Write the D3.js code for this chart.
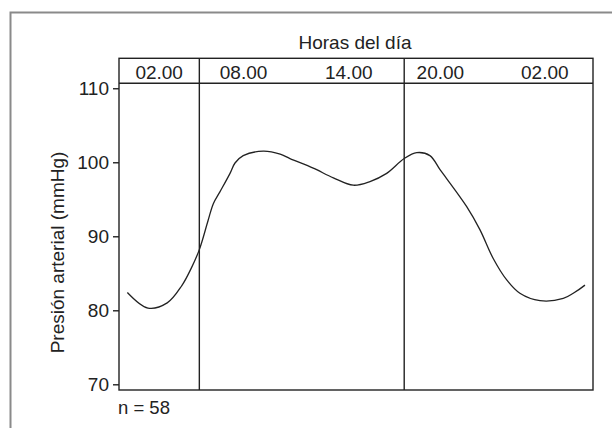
<!DOCTYPE html>
<html>
<head>
<meta charset="utf-8">
<script src="https://cdn.jsdelivr.net/npm/d3@7"></script>
<style>
  body { margin: 0; background: #fff; }
  svg { display: block; }
  text { font-family: "Liberation Sans", Arial, sans-serif; fill: #222; }
</style>
</head>
<body>
<svg id="chart" width="612" height="428"></svg>
<script>
// hours of the day (x) and mean blood pressure (mmHg)
var hours = [0.02, 1.3, 2.5, 3.4, 4.0, 4.5, 5.04, 5.37, 5.78, 6.41, 6.72, 7.23, 8.48, 9.53, 10.14,
             11.59, 12.84, 14.08, 15.12, 16.16, 17.25, 18.03, 18.85, 19.48, 19.89, 21.14,
             21.96, 22.79, 23.63, 24.45, 25.7, 27.15, 27.77, 28.5];
var pressure = [82.4, 80.3, 81.0, 83.3, 85.7, 88.2, 92.1, 94.4, 96.0, 98.5, 99.9, 100.9, 101.5, 101.1, 100.5,
                99.2, 97.9, 96.9, 97.4, 98.5, 100.5, 101.3, 100.9, 99.0, 97.8, 94.0,
                90.9, 87.0, 84.1, 82.3, 81.3, 81.6, 82.3, 83.4];

var yTicks = [70, 80, 90, 100, 110];
var headerLabels = ["02.00", "08.00", "14.00", "20.00", "02.00"];
var headerAt = [2, 7.25, 13.8, 19.5, 26];   // where each label sits on the hour scale
var dividers = [4.5, 17.25];                 // vertical lines (hours)

var svg = d3.select("#chart");
var pLeft = 119, pRight = 593, pTop = 83.3, pBottom = 390, headTop = 58.3;

var x = d3.scaleLinear().domain([-0.5, 29]).range([pLeft, pRight]);
var y = d3.scaleLinear().domain([69.23, 110.67]).range([pBottom, pTop]);

// outer frame (only top and left visible)
svg.append("path")
    .attr("d", "M10.5,428 L10.5,12.5 L612,12.5")
    .attr("fill", "none")
    .attr("stroke", "#8a8a8a")
    .attr("stroke-width", 2);

var g = svg.append("g");

// plot box incl. header row
g.append("rect")
    .attr("x", pLeft).attr("y", headTop)
    .attr("width", pRight - pLeft).attr("height", pBottom - headTop)
    .attr("fill", "none").attr("stroke", "#222").attr("stroke-width", 1.4);
g.append("line")
    .attr("x1", pLeft).attr("x2", pRight).attr("y1", pTop).attr("y2", pTop)
    .attr("stroke", "#222").attr("stroke-width", 1.4);

g.selectAll(".divider")
    .data(dividers)
    .enter()
    .append("line")
        .attr("class", "divider")
        .attr("x1", function(d){ return x(d); })
        .attr("x2", function(d){ return x(d); })
        .attr("y1", headTop).attr("y2", pBottom)
        .attr("stroke", "#222").attr("stroke-width", 1.4);

// header labels
g.selectAll(".hlab")
    .data(headerLabels)
    .enter()
    .append("text")
        .attr("class", "hlab")
        .attr("x", function(d, i){ return x(headerAt[i]); })
        .attr("y", 79)
        .attr("text-anchor", "middle")
        .attr("font-size", "19px")
        .text(function(d){ return d; });

svg.append("text")
    .attr("x", 355)
    .attr("y", 48.5)
    .attr("text-anchor", "middle")
    .attr("font-size", "19px")
    .text("Horas del día");

// y axis
var yAxis = g.append("g")
    .attr("transform", "translate(" + pLeft + ",0)")
    .call(d3.axisLeft(y).tickValues(yTicks).tickSize(6).tickPadding(4));
yAxis.select(".domain").remove();
yAxis.selectAll(".tick line").attr("stroke", "#222").attr("stroke-width", 1.4);
yAxis.selectAll(".tick text")
    .attr("fill", "#222")
    .attr("font-family", "Liberation Sans, Arial, sans-serif")
    .attr("font-size", "19px");

svg.append("text")
    .attr("transform", "translate(63.5,252.5) rotate(-90)")
    .attr("text-anchor", "middle")
    .attr("font-size", "19px")
    .text("Presión arterial (mmHg)");

// curve
var line = d3.line()
    .x(function(d, i){ return x(hours[i]); })
    .y(function(d){ return y(d); })
    .curve(d3.curveCatmullRom.alpha(0.5));

g.append("path")
    .datum(pressure)
    .attr("d", line)
    .attr("fill", "none")
    .attr("stroke", "#222")
    .attr("stroke-width", 1.3);

svg.append("text")
    .attr("x", 118)
    .attr("y", 414)
    .attr("font-size", "18.5px")
    .text("n = 58");
</script>
</body>
</html>
